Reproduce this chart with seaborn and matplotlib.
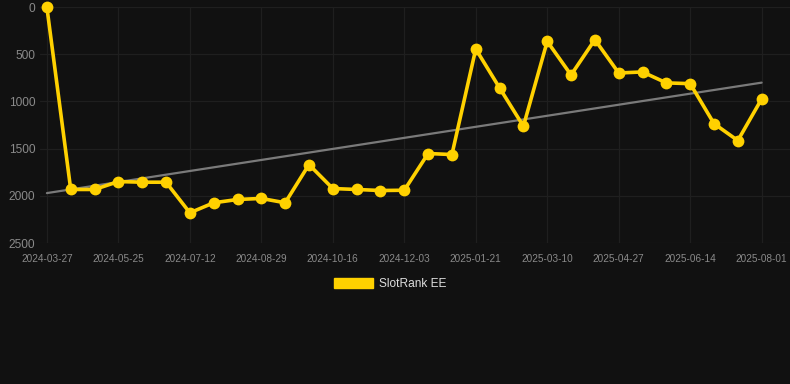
import numpy as np
import pandas as pd
import matplotlib
matplotlib.use("Agg")
import matplotlib.pyplot as plt
from matplotlib.patches import Patch
import seaborn as sns

# ---- data ----
dates = [
    "2024-03-27", "2024-04-23", "2024-05-09", "2024-05-25", "2024-06-10", "2024-06-26",
    "2024-07-12", "2024-07-28", "2024-08-13", "2024-08-29", "2024-09-14", "2024-09-30",
    "2024-10-16", "2024-11-01", "2024-11-17", "2024-12-03", "2024-12-19", "2025-01-04",
    "2025-01-21", "2025-02-06", "2025-02-22", "2025-03-10", "2025-03-26", "2025-04-11",
    "2025-04-27", "2025-05-13", "2025-05-29", "2025-06-14", "2025-06-30", "2025-07-16",
    "2025-08-01",
]
ranks = [
    5, 1933, 1933, 1849, 1856, 1856,
    2180, 2074, 2039, 2028, 2074, 1669,
    1923, 1933, 1944, 1941, 1552, 1563,
    445, 857, 1263, 364, 720, 346,
    699, 688, 804, 812, 1235, 1415,
    974,
]
series_name = "SlotRank EE"
y_ticks = [0, 500, 1000, 1500, 2000, 2500]

BG = "#111111"
GOLD = "#FFD100"
GRID = "#1f1f1f"
TICK = "#8a8a8a"

sns.set_theme(style="dark")
plt.rcParams["font.family"] = ["Liberation Sans", "DejaVu Sans"]

df = pd.DataFrame({"idx": np.arange(len(dates)), "date": dates, "rank": ranks})

fig = plt.figure(figsize=(7.9, 3.84), dpi=100, facecolor=BG)
ax = fig.add_axes([40 / 790, 1 - 243 / 384, 750 / 790, 236 / 384])
ax.set_facecolor(BG)

# trend line (linear fit)
coef = np.polyfit(df["idx"], df["rank"], 1)
df["trend"] = np.polyval(coef, df["idx"])
sns.lineplot(data=df, x="idx", y="trend", ax=ax, color="#7a7a7a", linewidth=1.6,
             legend=False, zorder=2)

sns.lineplot(data=df, x="idx", y="rank", ax=ax, color=GOLD, linewidth=2.6,
             marker="o", markersize=8.5, markeredgewidth=0, legend=False,
             zorder=3, clip_on=False)

ax.set_ylim(2500, 0)
ax.set_xlim(-0.29, len(dates) - 1 + 1.19)
ax.set_yticks(y_ticks)
ax.set_yticklabels([str(v) for v in y_ticks])
tick_idx = list(range(0, len(dates), 3))
ax.set_xticks(tick_idx)
ax.set_xticklabels([dates[i] for i in tick_idx])

ax.grid(True, color=GRID, linewidth=0.9)
ax.set_axisbelow(True)
for s in ax.spines.values():
    s.set_visible(False)
ax.tick_params(axis="x", colors=GRID, labelcolor=TICK, labelsize=7.2, length=5, pad=3, width=0.9)
ax.tick_params(axis="y", colors=GRID, labelcolor=TICK, labelsize=8.6, length=0, pad=3.5, width=0.9)
ax.set_xlabel("")
ax.set_ylabel("")

handle = Patch(facecolor=GOLD, edgecolor=GOLD, label=series_name)
fig.legend(handles=[handle], loc="center", bbox_to_anchor=(390 / 790, 1 - 284 / 384),
           frameon=False, fontsize=8.6, labelcolor="#dddddd",
           handlelength=3.3, handleheight=0.95, handletextpad=0.5)

fig.savefig("out.png", dpi=100, facecolor=BG)
